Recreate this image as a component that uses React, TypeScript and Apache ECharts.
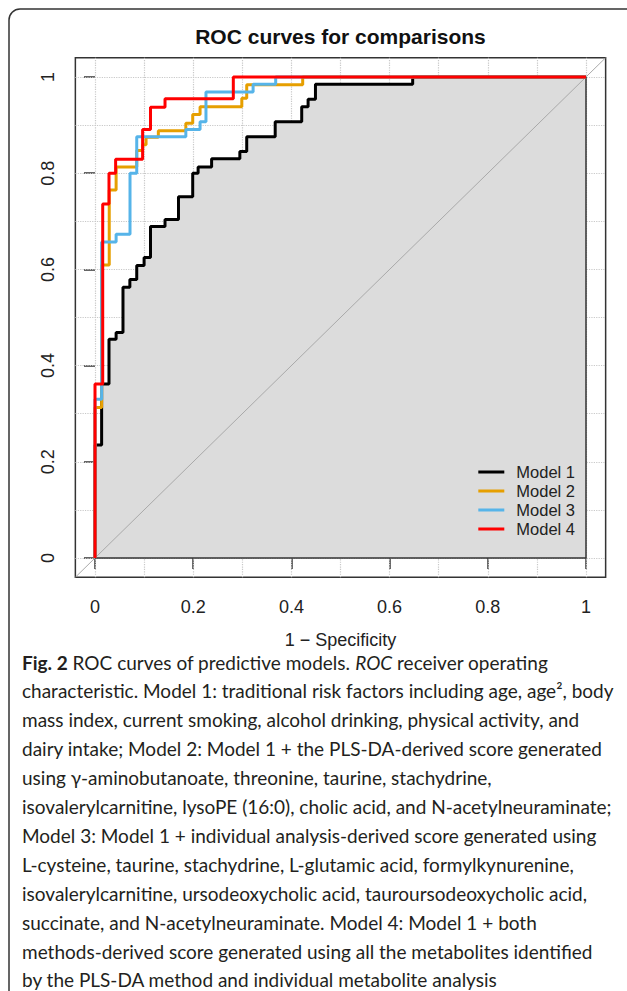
import React, { useEffect, useRef } from "react";
import * as echarts from "echarts";

// ---------- data ----------
const TITLE = "ROC curves for comparisons";
const X_LABEL = "1 − Specificity";
const AXIS_MIN = -0.04;
const AXIS_MAX = 1.04;
const TICKS = [0, 0.2, 0.4, 0.6, 0.8, 1];
const GRID_VALUES = [0, 0.1, 0.2, 0.3, 0.4, 0.5, 0.6, 0.7, 0.8, 0.9, 1];
const DIAGONAL: [number, number][] = [
  [AXIS_MIN, AXIS_MIN],
  [AXIS_MAX, AXIS_MAX],
];
// outline of the AUC polygon (bottom and right edges)
const AUC_BORDER: [number, number][] = [
  [0, 0],
  [1, 0],
  [1, 1],
];
const MODEL_NAMES = ["Model 1", "Model 2", "Model 3", "Model 4"];
const MODEL_COLORS = ["#000000", "#E69F00", "#56B4E9", "#FF0000"];

// ROC step points [1 - specificity, sensitivity]
const model1: [number, number][] = [
  [0, 0], [0, 0.235], [0.0135, 0.362], [0.0285, 0.455], [0.043, 0.469],
  [0.057, 0.563], [0.071, 0.579], [0.085, 0.608], [0.1, 0.625], [0.113, 0.689],
  [0.1426, 0.704], [0.17, 0.751], [0.199, 0.8], [0.21, 0.813], [0.2375, 0.83],
  [0.295, 0.845], [0.309, 0.876], [0.367, 0.907], [0.421, 0.938], [0.434, 0.954],
  [0.449, 0.985], [0.647, 1], [1, 1],
];
const model2: [number, number][] = [
  [0, 0], [0, 0.313], [0.0135, 0.609], [0.029, 0.765], [0.043, 0.813],
  [0.085, 0.847], [0.097, 0.859], [0.104, 0.875], [0.129, 0.888], [0.185, 0.904],
  [0.199, 0.922], [0.214, 0.938], [0.299, 0.956], [0.309, 0.984], [0.423, 1], [1, 1],
];
const model3: [number, number][] = [
  [0, 0], [0, 0.33], [0.0135, 0.657], [0.043, 0.673], [0.0713, 0.8],
  [0.085, 0.876], [0.185, 0.891], [0.214, 0.907], [0.226, 0.969], [0.322, 0.985],
  [0.368, 1], [1, 1],
];
const model4: [number, number][] = [
  [0, 0], [0, 0.362], [0.0157, 0.736], [0.0285, 0.8], [0.042, 0.829],
  [0.097, 0.891], [0.113, 0.937], [0.1426, 0.955], [0.2817, 1], [1, 1],
];
const MODEL_DATA = [model1, model2, model3, model4];

const CAPTION_LINES = [
  "{b|Fig. 2} ROC curves of predictive models. {i|ROC} receiver operating",
  "characteristic. Model 1: traditional risk factors including age, age², body",
  "mass index, current smoking, alcohol drinking, physical activity, and",
  "dairy intake; Model 2: Model 1 + the PLS-DA-derived score generated",
  "using γ-aminobutanoate, threonine, taurine, stachydrine,",
  "isovalerylcarnitine, lysoPE (16:0), cholic acid, and N-acetylneuraminate;",
  "Model 3: Model 1 + individual analysis-derived score generated using",
  "L-cysteine, taurine, stachydrine, L-glutamic acid, formylkynurenine,",
  "isovalerylcarnitine, ursodeoxycholic acid, tauroursodeoxycholic acid,",
  "succinate, and N-acetylneuraminate. Model 4: Model 1 + both",
  "methods-derived score generated using all the metabolites identified",
  "by the PLS-DA method and individual metabolite analysis",
];

// ---------- styles ----------
const PLOT_FONT = "'Liberation Sans', Arial, Helvetica, sans-serif";
const CAPTION_FONT = "Lato, 'Noto Sans', sans-serif";
const CAPTION_SIZE = 19;
const CAPTION_X = 22;
const CAPTION_Y0 = 662;
const CAPTION_STEP = 28.9;
const LEGEND_FONT_SIZE = 16.5;
const LEGEND_LINE = 19;

export default function App() {
  const ref = useRef<HTMLDivElement>(null);

  useEffect(() => {
    if (!ref.current) return;
    const chart = echarts.init(ref.current, undefined, { renderer: "svg" });

    const axisCommon = {
      type: "value",
      min: AXIS_MIN,
      max: AXIS_MAX,
      axisLine: { show: false },
      splitLine: { show: false },
      axisTick: {
        show: true,
        customValues: TICKS,
        length: 11,
        lineStyle: { color: "#333", width: 1.5 },
      },
    };

    const captionGraphics = CAPTION_LINES.map((line, i) => ({
      type: "text",
      x: CAPTION_X,
      y: CAPTION_Y0 + i * CAPTION_STEP,
      silent: true,
      style: {
        text: line,
        fill: "#231f20",
        fontSize: CAPTION_SIZE,
        fontFamily: CAPTION_FONT,
        verticalAlign: "middle",
        align: "left",
        rich: {
          b: { fontWeight: "bold", fontSize: CAPTION_SIZE, fontFamily: CAPTION_FONT, fill: "#231f20" },
          i: { fontStyle: "italic", fontSize: CAPTION_SIZE, fontFamily: CAPTION_FONT, fill: "#231f20" },
        },
      },
    }));

    const option: any = {
      animation: false,
      backgroundColor: "#ffffff",
      title: {
        text: TITLE,
        left: 340.5,
        top: 26,
        padding: 0,
        textAlign: "center",
        textStyle: {
          fontSize: 21,
          fontWeight: "bold",
          fontFamily: PLOT_FONT,
          color: "#111",
        },
      },
      grid: {
        left: 75.36,
        right: 21.36,
        top: 57.76,
        bottom: 413.76,
        show: true,
        borderColor: "#333",
        borderWidth: 1.5,
        backgroundColor: "transparent",
      },
      xAxis: {
        ...axisCommon,
        axisLabel: {
          customValues: TICKS,
          margin: 21,
          fontSize: 18,
          color: "#222",
          fontFamily: PLOT_FONT,
        },
        name: X_LABEL,
        nameLocation: "middle",
        nameGap: 54,
        nameTextStyle: { fontSize: 18, color: "#222", fontFamily: PLOT_FONT },
      },
      yAxis: {
        ...axisCommon,
        axisLabel: {
          customValues: TICKS,
          margin: 18,
          rotate: 90,
          fontSize: 18,
          color: "#222",
          fontFamily: PLOT_FONT,
        },
      },
      legend: {
        data: MODEL_NAMES,
        orient: "vertical",
        right: 41,
        bottom: 433,
        backgroundColor: "transparent",
        borderWidth: 0,
        padding: [19, 11, 19.5, 61],
        itemGap: 0,
        itemWidth: 26,
        itemHeight: 3,
        icon: "rect",
        align: "left",
        selectedMode: false,
        textStyle: {
          fontSize: LEGEND_FONT_SIZE,
          lineHeight: LEGEND_LINE,
          color: "#222",
          fontFamily: PLOT_FONT,
          padding: [0, 0, 0, 7],
        },
      },
      graphic: [
        {
          type: "rect",
          silent: true,
          z: -10,
          shape: { x: 9, y: 9, width: 700, height: 1100, r: 11 },
          style: { fill: "none", stroke: "#333", lineWidth: 1.5 },
        },
        ...captionGraphics,
      ],
      series: [
        {
          name: "AUC area",
          type: "line",
          data: model1,
          step: "end",
          symbol: "none",
          silent: true,
          z: 2,
          lineStyle: { width: 0, opacity: 0 },
          areaStyle: { color: "#dcdcdc", opacity: 1, origin: "auto" },
          markLine: {
            silent: true,
            z: 1,
            symbol: ["none", "none"],
            label: { show: false },
            lineStyle: { type: "dotted", color: "#c8c8c8", width: 1.2 },
            emphasis: { disabled: true },
            data: [
              ...GRID_VALUES.map((v) => ({ xAxis: v })),
              ...GRID_VALUES.map((v) => ({ yAxis: v })),
            ],
          },
        },
        {
          name: "AUC border",
          type: "line",
          data: AUC_BORDER,
          symbol: "none",
          silent: true,
          z: 3,
          lineStyle: { color: "#333", width: 1.5 },
        },
        {
          name: "diagonal",
          type: "line",
          data: DIAGONAL,
          symbol: "none",
          silent: true,
          z: 3,
          lineStyle: { color: "#a9a9a9", width: 1 },
        },
        ...MODEL_NAMES.map((name, i) => ({
          name,
          type: "line",
          data: MODEL_DATA[i],
          step: "end",
          symbol: "none",
          z: 4 + i,
          color: MODEL_COLORS[i],
          lineStyle: { color: MODEL_COLORS[i], width: 3 },
        })),
      ],
    };

    chart.setOption(option);
    return () => chart.dispose();
  }, []);

  return (
    <div
      ref={ref}
      style={{ position: "absolute", left: 0, top: 0, width: 627, height: 991 }}
    />
  );
}
